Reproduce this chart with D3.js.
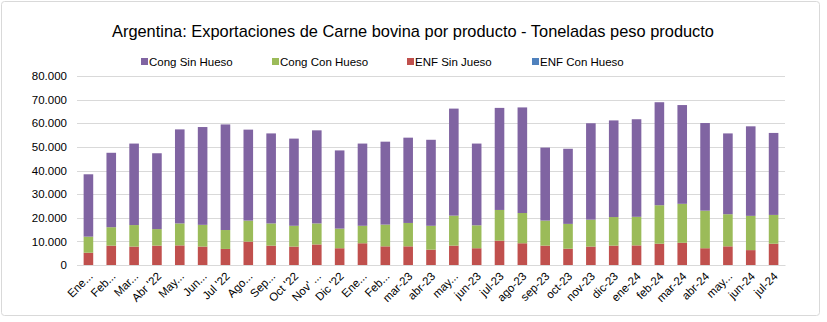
<!DOCTYPE html>
<html>
<head>
<meta charset="utf-8">
<script src="https://cdn.jsdelivr.net/npm/d3@7"></script>
<style>
  body { margin: 0; background: #fff; }
  text { font-family: "Liberation Sans", Arial, sans-serif; }
</style>
</head>
<body>
<div id="chart"></div>
<script>
// meses (etiquetas tal como las recorta Excel)
const months = ["Ene...", "Feb...", "Mar...", "Abr '22", "May...", "Jun...", "Jul '22", "Ago...", "Sep...", "Oct '22",
    "Nov' ...", "Dic '22", "Ene...", "Feb...", "mar-23", "abr-23", "may...", "jun-23", "jul-23", "ago-23",
    "sep-23", "oct-23", "nov-23", "dic-23", "ene-24", "feb-24", "mar-24", "abr-24", "may...", "jun-24", "jul-24"];

const enfConHueso = [0, 0, 0, 0, 0, 0, 0, 0, 0, 0, 0, 0, 0, 0, 0, 0, 0, 0, 0, 0, 0, 0, 0, 0, 0, 0, 0, 0, 0, 0, 0];
const enfSinJueso = [5200, 8200, 7800, 8200, 8300, 7800, 6800, 9900, 8200, 7800, 8700, 7100, 9200, 7900, 7900, 6500,
    8200, 7100, 10300, 9200, 8200, 6900, 7800, 8200, 8300, 9000, 9400, 7100, 7900, 6300, 9000];
const congConHueso = [6800, 7800, 9100, 7000, 9300, 9200, 8000, 8900, 9400, 8800, 8900, 8300, 7400, 9200, 9900, 10100,
    12700, 9700, 13000, 12800, 10600, 10500, 11400, 12100, 12100, 16300, 16500, 15900, 13600, 14500, 12200];
const congSinHueso = [26400, 31500, 34500, 32100, 39800, 41400, 44700, 38500, 38100, 36900, 39400, 33100, 34800, 35100, 36100, 36400,
    45300, 34600, 43200, 44700, 30900, 31800, 40800, 40900, 41300, 43600, 41800, 37100, 34200, 37900, 34700];

const yTicks = [0, 10000, 20000, 30000, 40000, 50000, 60000, 70000, 80000];

const seriesNames = ["ENF Con Hueso", "ENF Sin Jueso", "Cong Con Hueso", "Cong Sin Hueso"];
const legendOrder = ["Cong Sin Hueso", "Cong Con Hueso", "ENF Sin Jueso", "ENF Con Hueso"];
const colors = {"Cong Sin Hueso": "#8064A2", "Cong Con Hueso": "#9BBB59", "ENF Sin Jueso": "#C0504D", "ENF Con Hueso": "#4F81BD"};

let width = 827, height = 322;
let margin = {top: 76, right: 42, bottom: 57, left: 77};

let rows = months.map((m, i) => ({
    month: i,
    "ENF Con Hueso": enfConHueso[i],
    "ENF Sin Jueso": enfSinJueso[i],
    "Cong Con Hueso": congConHueso[i],
    "Cong Sin Hueso": congSinHueso[i]
}));

let svg = d3.select("#chart").append("svg")
    .attr("width", width)
    .attr("height", height);

svg.append("rect")
    .attr("x", 1.5).attr("y", 1.5)
    .attr("width", 818).attr("height", 314)
    .attr("rx", 3)
    .attr("fill", "#fff")
    .attr("stroke", "#d9d9d9");

svg.append("text")
    .attr("x", 413)
    .attr("y", 37)
    .attr("text-anchor", "middle")
    .attr("font-size", "16.4px")
    .attr("fill", "#000")
    .text("Argentina: Exportaciones de Carne bovina por producto - Toneladas peso producto");

let x = d3.scaleBand().domain(d3.range(months.length)).range([margin.left, width - margin.right]).paddingInner(0.58).paddingOuter(0.29);
let y = d3.scaleLinear().domain([0, 80000]).range([height - margin.bottom, margin.top]);

// grid
svg.append("g")
    .selectAll("line")
    .data(yTicks)
    .enter().append("line")
    .attr("x1", margin.left).attr("x2", width - margin.right)
    .attr("y1", d => Math.round(y(d)) + 0.5).attr("y2", d => Math.round(y(d)) + 0.5)
    .attr("stroke", "#d9d9d9");

let yAxis = svg.append("g")
    .attr("transform", `translate(${margin.left},0)`)
    .call(d3.axisLeft(y).tickValues(yTicks).tickSize(0).tickPadding(10)
        .tickFormat(d => d3.format(",")(d).replace(/,/g, ".")));
yAxis.select(".domain").remove();
yAxis.selectAll("text").attr("font-size", "11.5px").attr("fill", "#000").attr("font-family", "Liberation Sans, Arial, sans-serif");

let stack = d3.stack().keys(seriesNames)(rows);

svg.append("g")
    .selectAll("g")
    .data(stack)
    .enter().append("g")
    .attr("fill", d => colors[d.key])
    .selectAll("rect")
    .data(d => d)
    .enter().append("rect")
    .attr("x", d => x(d.data.month))
    .attr("y", d => y(d[1]))
    .attr("width", x.bandwidth())
    .attr("height", d => y(d[0]) - y(d[1]));

// x axis
let xAxis = svg.append("g")
    .attr("transform", `translate(0,${height - margin.bottom})`)
    .call(d3.axisBottom(x).tickSize(0).tickFormat(i => months[i]));
xAxis.select(".domain").attr("stroke", "#d9d9d9");
xAxis.selectAll("text")
    .attr("font-size", "11.5px")
    .attr("fill", "#000")
    .attr("font-family", "Liberation Sans, Arial, sans-serif")
    .attr("text-anchor", "end")
    .attr("dy", null)
    .attr("y", 0)
    .attr("transform", "translate(5,12) rotate(-45)");

// legend
let legendX = [141, 272, 407, 532];
let legend = svg.append("g")
    .selectAll("g")
    .data(legendOrder)
    .enter().append("g")
    .attr("transform", (d, i) => `translate(${legendX[i]},62)`);
legend.append("rect")
    .attr("x", 0).attr("y", -4)
    .attr("width", 7).attr("height", 7)
    .attr("fill", d => colors[d]);
legend.append("text")
    .attr("x", 8)
    .attr("y", 4)
    .attr("font-size", "11.5px")
    .attr("fill", "#000")
    .text(d => d);
</script>
</body>
</html>
